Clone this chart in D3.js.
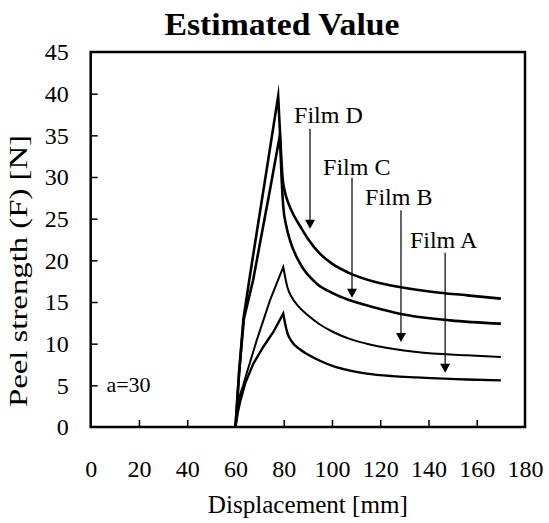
<!DOCTYPE html>
<html>
<head>
<meta charset="utf-8">
<script src="https://cdn.jsdelivr.net/npm/d3@7/dist/d3.min.js"></script>
<style>
  html, body { margin: 0; padding: 0; background: #fff; }
  svg { display: block; }
</style>
</head>
<body>
<svg id="chart" width="549" height="523" font-family="Liberation Serif"></svg>
<script>
// ---- data ----
const chartTitle = "Estimated Value";
const xTitle = "Displacement [mm]";
const yTitle = "Peel strength (F) [N]";
const xTicks = [0, 20, 40, 60, 80, 100, 120, 140, 160, 180];
const yTicks = [0, 5, 10, 15, 20, 25, 30, 35, 40, 45];
const seriesNames = ["Film D", "Film C", "Film B", "Film A"];

// rising part (straight segments) and decaying part (smooth), joined at the peak
const filmDRise = [[60,0],[61.5,6.5],[63.3,13],[65.7,17.6],[68.3,22.4],[73,31],[77.7,39.7]];
const filmDFall = [[77.7,39.7],[78.6,34.5],[79.5,30],[80.5,28.2],[82,26.8],[84,25.5],[87,24],[90,22.6],[95,20.8],[100,19.6],[107,18.5],[118,17.4],[128,16.8],[142,16.2],[156,15.8],[170,15.4]];
const filmCRise = [[60,0],[61.5,6.5],[63.5,13],[67.3,17.6],[70,21.8],[74,28],[78.4,35]];
const filmCFall = [[78.4,35],[79.1,30],[79.8,26.5],[81,24.2],[82.6,22.4],[86.8,19.6],[93.7,17.2],[100,16.1],[107.5,15.2],[118,14.3],[128,13.6],[149,12.8],[170,12.4]];
const filmBRise = [[60,0],[61,2.5],[62,4],[63.2,5],[64.6,6.4],[68.8,10.4],[74.3,15.2],[79.8,19.2]];
const filmBFall = [[79.8,19.2],[80.6,18],[81.5,16.8],[83.3,15.6],[86,14.5],[90,13.4],[95,12.3],[100.5,11.4],[107,10.6],[114.4,10],[125,9.4],[135,9.0],[155.8,8.6],[170,8.4]];
const filmARise = [[60,0],[61,1.8],[61.9,3],[64,5.2],[67.4,7.6],[71.5,9.6],[75.7,11.4],[79.8,13.6]];
const filmAFall = [[79.8,13.6],[80.6,12.4],[81.5,11.3],[83,10.4],[86.8,9.3],[90,8.7],[95,7.95],[100.5,7.3],[107,6.8],[114.4,6.4],[125,6.1],[135,5.95],[155.8,5.7],[170,5.6]];

// annotation labels (data units): text start x, baseline y
const labelX = [84.3, 96.3, 113.7, 132.3];
const labelY = [36.5, 30.2, 26.6, 21.5];
// arrows (data units): x, start y, tip y
const arrowX = [90.9, 108.3, 128.6, 146.9];
const arrowY0 = [35.8, 29.9, 26.0, 20.9];
const arrowY1 = [23.8, 15.5, 10.2, 6.5];

const noteText = "a=30";
const noteX = 6.5, noteY = 4.2;

// ---- layout ----
const FONT = "Liberation Serif";
const margin = { left: 90.7, right: 24, top: 52, bottom: 96 };
const W = 549, H = 523;
const svg = d3.select("#chart");
svg.append("rect").attr("width", W).attr("height", H).attr("fill", "#fff");

const x = d3.scaleLinear().domain([0, 180]).range([margin.left, W - margin.right]);
const y = d3.scaleLinear().domain([0, 45]).range([H - margin.bottom, margin.top]);

// title
svg.append("text")
  .attr("x", 282).attr("y", 35)
  .attr("text-anchor", "middle")
  .attr("font-family", FONT)
  .attr("font-size", 31).attr("font-weight", "bold")
  .attr("textLength", 235).attr("lengthAdjust", "spacingAndGlyphs")
  .text(chartTitle);

// axes
const xAxis = d3.axisBottom(x).tickValues(xTicks).tickSizeInner(-7).tickSizeOuter(0).tickPadding(33);
const yAxis = d3.axisLeft(y).tickValues(yTicks).tickSizeInner(-7).tickSizeOuter(0).tickPadding(22);

const gx = svg.append("g").attr("transform", `translate(0,${y(0)})`).call(xAxis);
const gy = svg.append("g").attr("transform", `translate(${x(0)},0)`).call(yAxis);
[gx, gy].forEach(g => {
  g.attr("font-family", FONT).attr("font-size", 24);
  g.select(".domain").remove();
  g.selectAll(".tick line").attr("stroke", "#000").attr("stroke-width", 1.5);
  g.selectAll(".tick text").attr("fill", "#000");
});
gx.selectAll(".tick").filter(d => d === 0 || d === 180).select("line").remove();
gy.selectAll(".tick").filter(d => d === 0 || d === 45).select("line").remove();

// frame
svg.append("rect")
  .attr("x", x(0)).attr("y", y(45))
  .attr("width", x(180) - x(0)).attr("height", y(0) - y(45))
  .attr("fill", "none").attr("stroke", "#000").attr("stroke-width", 2.5);

// axis titles
svg.append("text")
  .attr("x", (x(0) + x(180)) / 2).attr("y", 513)
  .attr("text-anchor", "middle").attr("font-size", 25).attr("font-family", FONT)
  .attr("textLength", 200).attr("lengthAdjust", "spacingAndGlyphs")
  .text(xTitle);
svg.append("text")
  .attr("transform", `translate(27,271) rotate(-90)`)
  .attr("text-anchor", "middle").attr("font-size", 26).attr("font-family", FONT)
  .attr("textLength", 272).attr("lengthAdjust", "spacingAndGlyphs")
  .text(yTitle);

// curves
const rise = d3.line().x(d => x(d[0])).y(d => y(d[1]));
const fall = d3.line().x(d => x(d[0])).y(d => y(d[1])).curve(d3.curveMonotoneX);
const series = [[filmDRise, filmDFall], [filmCRise, filmCFall], [filmBRise, filmBFall], [filmARise, filmAFall]];
const widths = [2.6, 2.6, 2.0, 2.4];
series.forEach((s, i) => {
  const d = rise(s[0]) + "L" + fall(s[1]).slice(1);
  svg.append("path")
    .attr("d", d)
    .attr("fill", "none").attr("stroke", "#000")
    .attr("stroke-width", widths[i])
    .attr("stroke-linejoin", "miter").attr("stroke-miterlimit", 10);
});

// annotations
seriesNames.forEach((name, i) => {
  svg.append("text")
    .attr("x", x(labelX[i])).attr("y", y(labelY[i]))
    .attr("font-size", 24).attr("font-family", FONT)
    .text(name);
  const ax = x(arrowX[i]), ya = y(arrowY0[i]), yb = y(arrowY1[i]);
  svg.append("line")
    .attr("x1", ax).attr("x2", ax).attr("y1", ya).attr("y2", yb - 6)
    .attr("stroke", "#000").attr("stroke-width", 1.2);
  svg.append("path")
    .attr("d", `M${ax - 5},${yb - 9} L${ax + 5},${yb - 9} L${ax},${yb} Z`)
    .attr("fill", "#000");
});

svg.append("text")
  .attr("x", x(noteX)).attr("y", y(noteY))
  .attr("font-size", 22).attr("font-family", FONT)
  .text(noteText);
</script>
</body>
</html>
